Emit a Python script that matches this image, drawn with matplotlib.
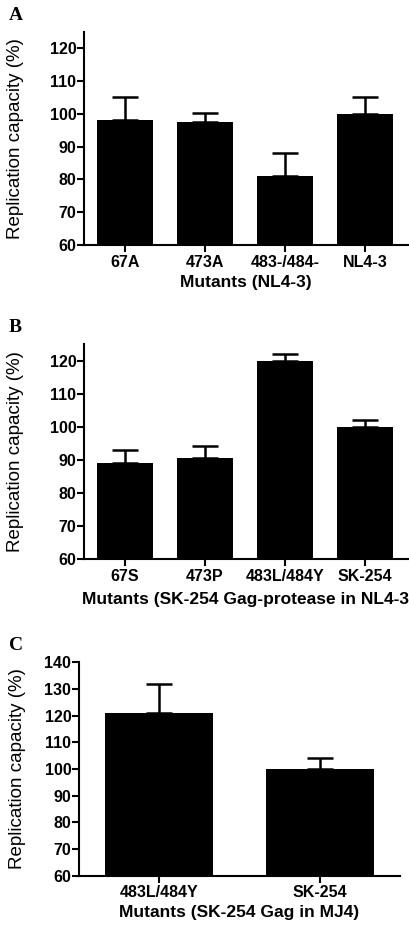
import matplotlib
matplotlib.use("Agg")
import matplotlib.pyplot as plt

# panel A: mutants in NL4-3
a_names = ["67A", "473A", "483-/484-", "NL4-3"]
a_values = [98, 97.5, 81, 100]
a_err = [7, 2.7, 7, 5]

# panel B: SK-254 Gag-protease in NL4-3
b_names = ["67S", "473P", "483L/484Y", "SK-254"]
b_values = [89, 90.5, 120, 100]
b_err = [4, 3.7, 2, 2]

# panel C: SK-254 Gag in MJ4
c_names = ["483L/484Y", "SK-254"]
c_values = [121, 100]
c_err = [11, 4]

plt.rcParams["font.family"] = ["Liberation Sans", "DejaVu Sans"]

W, H = 410, 930
fig = plt.figure(figsize=(W / 100, H / 100), dpi=100)


def px_axes(left, top, right, bottom):
    return fig.add_axes([left / W, 1 - bottom / H, (right - left) / W, (bottom - top) / H])


def panel(ax, names, values, err, width, xlim, ylim, yticks, xlabel, ylab_x,
          xlab_pad, letter, lx, ly):
    xs = list(range(len(names)))
    ax.bar(xs, values, width=width, color="black", zorder=2)
    ax.errorbar(xs, values, yerr=[[0] * len(err), err], fmt="none", ecolor="black",
                elinewidth=1.8, capsize=9.5, capthick=1.8, zorder=1)
    ax.set_xlim(*xlim)
    ax.set_ylim(*ylim)
    ax.set_yticks(yticks)
    ax.set_xticks(xs)
    ax.set_xticklabels(names)
    for s in ("top", "right"):
        ax.spines[s].set_visible(False)
    for s in ("left", "bottom"):
        ax.spines[s].set_linewidth(1.5)
    ax.tick_params(width=1.5, length=5)
    ax.tick_params(axis="y", labelsize=11.5, pad=0.5)
    ax.tick_params(axis="x", labelsize=11.5, pad=2)
    for t in ax.get_xticklabels() + ax.get_yticklabels():
        t.set_fontweight("bold")
    ax.set_xlabel(xlabel, fontsize=12.5, fontweight="bold", labelpad=xlab_pad)
    ax.set_ylabel("Replication capacity (%)", fontsize=13.5)
    ax.yaxis.set_label_coords(ylab_x, 0.5)
    fig.text(lx / W, 1 - ly / H, letter, fontsize=14, fontweight="bold",
             family="Liberation Serif", ha="left", va="center")


axA = px_axes(84, 31.7, 408, 245)
panel(axA, a_names, a_values, a_err, 0.7, (-0.51, 3.54), (60, 125),
      range(60, 121, 10), "Mutants (NL4-3)", -0.186, 4, "A", 9, 16)

axB = px_axes(84, 344.3, 412, 559)
panel(axB, b_names, b_values, b_err, 0.7, (-0.51, 3.59), (60, 125),
      range(60, 121, 10), "Mutants (SK-254 Gag-protease in NL4-3)", -0.184, 6,
      "B", 9, 328)

axC = px_axes(79, 662.3, 400, 875.7)
panel(axC, c_names, c_values, c_err, 0.675, (-0.5, 1.5), (60, 140),
      range(60, 141, 10), "Mutants (SK-254 Gag in MJ4)", -0.165, 3, "C", 9, 646)

fig.savefig("out.png", dpi=100)
